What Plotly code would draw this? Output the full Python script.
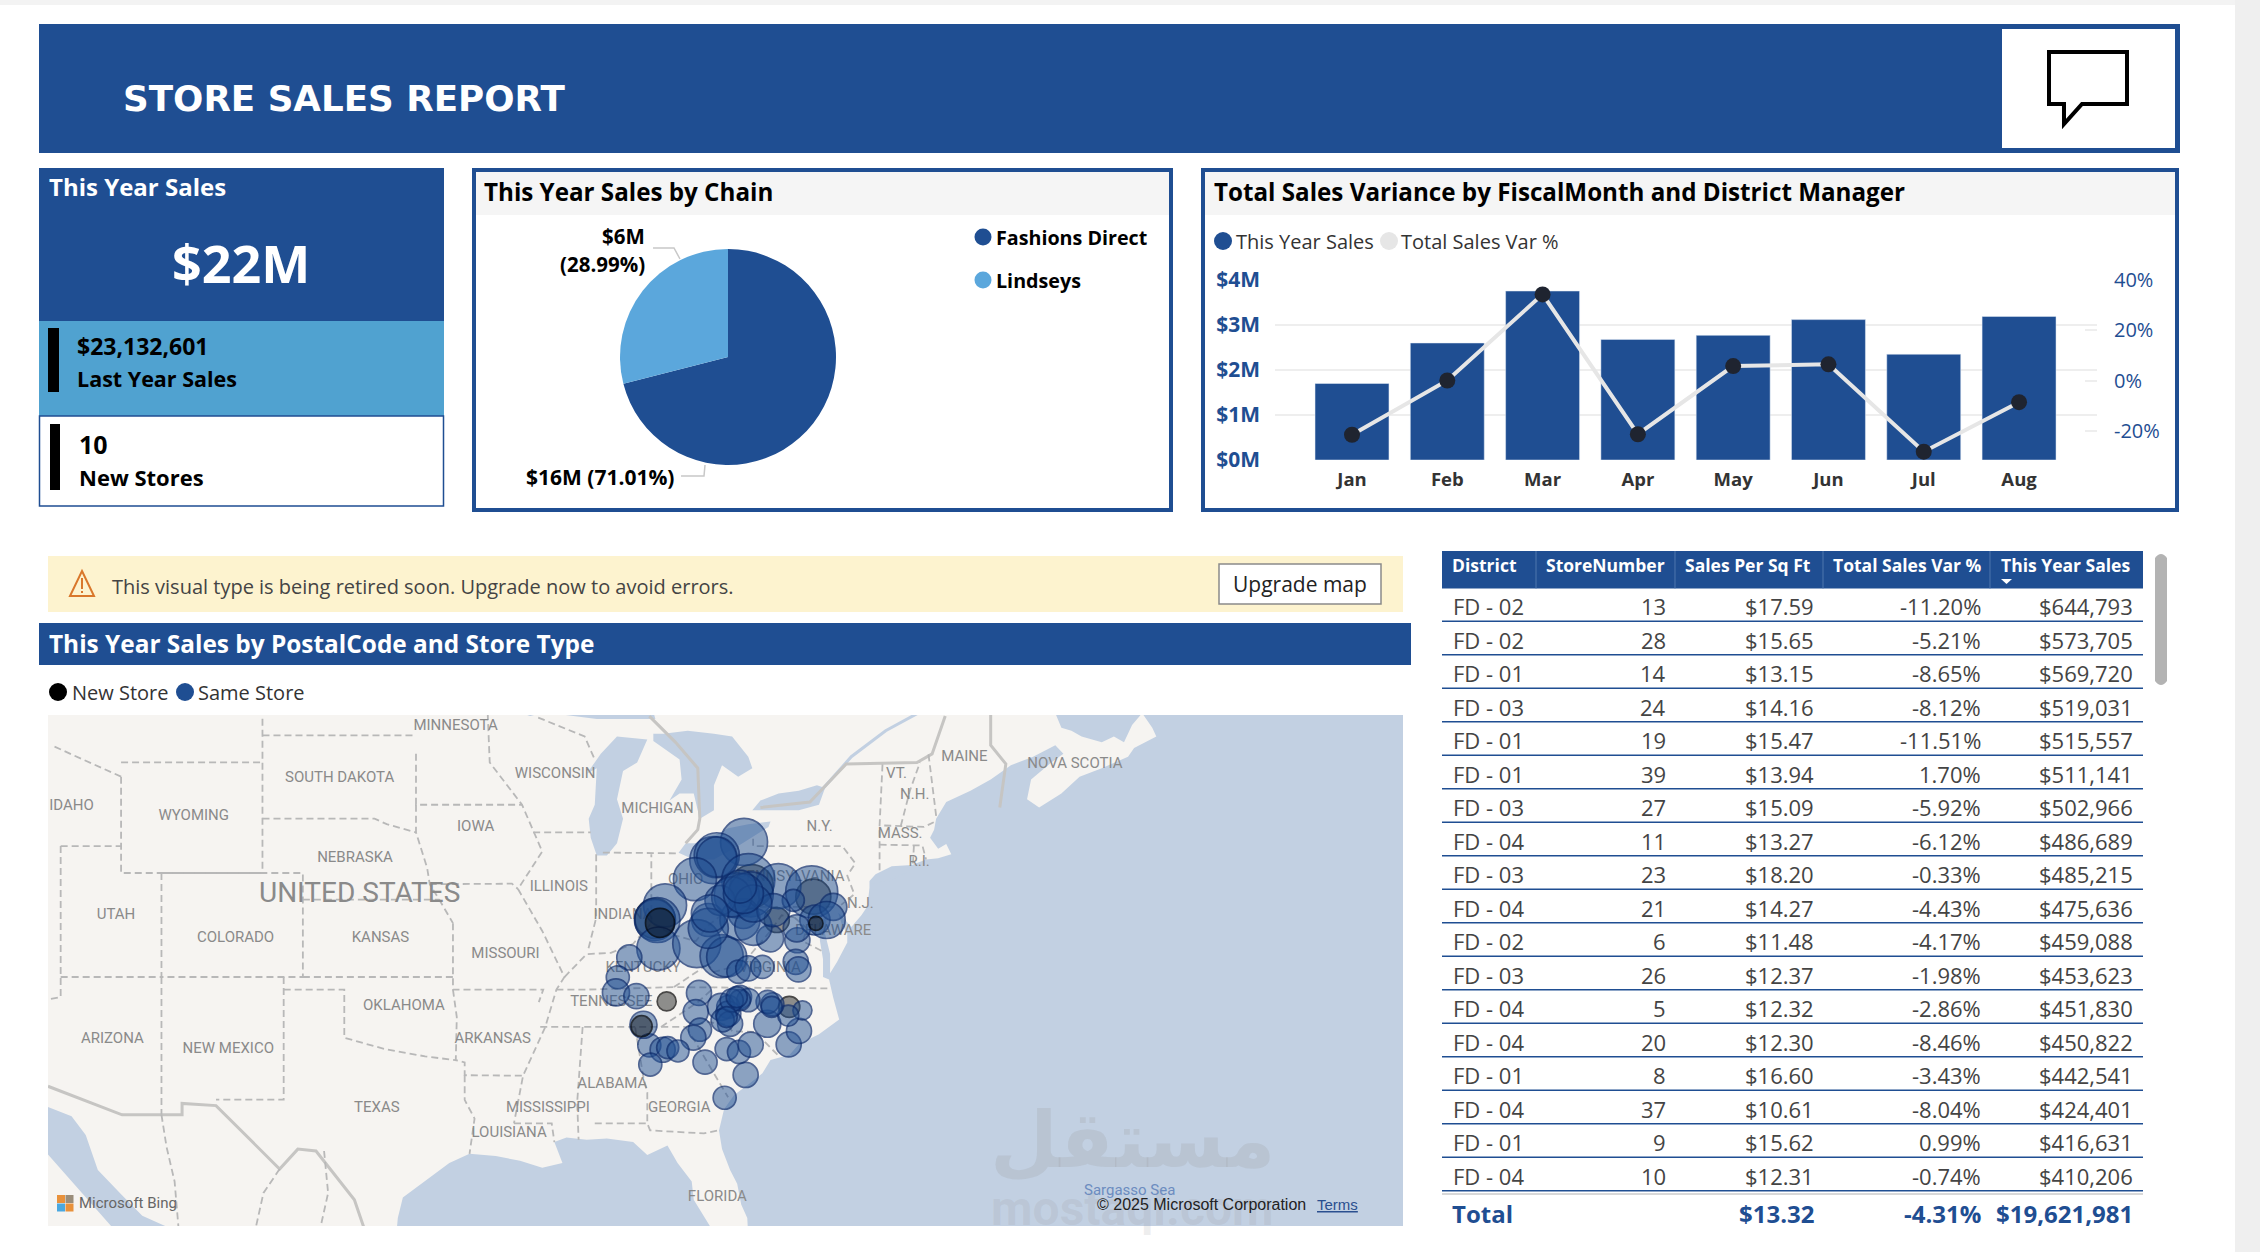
import math
import plotly.graph_objects as go

W = 2260
H = 1252
BLUE = "#1f4e92"
FONT = "Open Sans"

# kpi values
this_year_total = "$22M"
last_year_total = "$23,132,601"
new_stores = "10"

# sales by chain
chain_names = ["Fashions Direct", "Lindseys"]
chain_share = [71.01, 28.99]
chain_colors = [BLUE, "#5ba7dc"]

# sales variance by month
months = ["Jan", "Feb", "Mar", "Apr", "May", "Jun", "Jul", "Aug"]
month_sales = [1.70, 2.60, 3.755, 2.68, 2.77, 3.12, 2.35, 3.19]
month_var = [-21.3, 0.2, 34.3, -21.1, 5.9, 6.6, -28.0, -8.4]

# table
table_cols = ["District", "StoreNumber", "Sales Per Sq Ft", "Total Sales Var %", "This Year Sales"]
districts = ["FD - 02", "FD - 02", "FD - 01", "FD - 03", "FD - 01", "FD - 01", "FD - 03", "FD - 04", "FD - 03",
             "FD - 04", "FD - 02", "FD - 03", "FD - 04", "FD - 04", "FD - 01", "FD - 04", "FD - 01", "FD - 04"]
store_numbers = ["13", "28", "14", "24", "19", "39", "27", "11", "23", "21", "6", "26", "5", "20", "8", "37", "9", "10"]
sales_sqft = ["$17.59", "$15.65", "$13.15", "$14.16", "$15.47", "$13.94", "$15.09", "$13.27", "$18.20",
              "$14.27", "$11.48", "$12.37", "$12.32", "$12.30", "$16.60", "$10.61", "$15.62", "$12.31"]
sales_var = ["-11.20%", "-5.21%", "-8.65%", "-8.12%", "-11.51%", "1.70%", "-5.92%", "-6.12%", "-0.33%",
             "-4.43%", "-4.17%", "-1.98%", "-2.86%", "-8.46%", "-3.43%", "-8.04%", "0.99%", "-0.74%"]
year_sales = ["$644,793", "$573,705", "$569,720", "$519,031", "$515,557", "$511,141", "$502,966", "$486,689",
              "$485,215", "$475,636", "$459,088", "$453,623", "$451,830", "$450,822", "$442,541", "$424,401",
              "$416,631", "$410,206"]
totals = ["Total", "", "$13.32", "-4.31%", "$19,621,981"]

# bubbles on the map
same_lon = [-80.21, -81.73, -81.56, -81.56, -82.64, -80.0, -78.51, -76.86, -84.12, -84.62, -84.5, -84.45, -81.98,
            -82.55, -81.32, -81.07, -80.57, -79.88, -80.24, -80.41, -81.4, -77.77, -78.92, -77.57, -76.7, -77.6,
            -75.79, -76.12, -77.65, -77.52, -80.49, -80.0, -79.3, -85.89, -86.46, -86.55, -85.54, -82.44, -82.6,
            -82.39, -82.72, -84.9, -84.24, -83.99, -83.48, -84.85, -82.14, -81.07, -80.46, -79.88, -80.13, -81.17,
            -78.0, -77.49, -79.06, -77.32, -78.02, -78.81, -79.04, -80.41, -80.0, -80.99, -81.35, -80.99, -80.9,
            -81.27, -85.19, -80.41, -79.75, -78.76, -80.82, -81.98, -81.9, -79.75, -80.24, -80.41, -80.82, -80.57,
            -81.07, -78.84]
same_lat = [42.15, 41.48, 41.66, 41.6, 40.77, 40.73, 40.51, 40.29, 39.78, 39.22, 39.22, 38.12, 39.22, 38.31, 37.82,
            37.79, 40.16, 40.2, 39.47, 39.22, 39.97, 39.97, 38.51, 38.44, 39.22, 38.9, 39.72, 39.22, 37.6, 37.3,
            37.21, 37.34, 37.4, 37.77, 36.99, 36.39, 36.24, 36.37, 35.6, 34.89, 34.57, 34.25, 34.07, 34.16, 34.02,
            33.46, 33.56, 34.1, 33.98, 34.28, 33.03, 32.08, 34.29, 34.84, 35.13, 35.67, 35.46, 35.91, 36.01, 36.21,
            36.08, 35.81, 35.81, 35.54, 35.13, 35.27, 35.09, 36.08, 38.96, 39.6, 40.1, 38.9, 39.47, 39.85, 40.23,
            40.49, 36.07, 36.2, 35.4, 35.81]
same_size = [47, 47, 45, 40, 43, 53, 45, 52, 43, 41, 45, 43, 33, 48, 43, 40, 45, 45, 30, 40, 30, 22, 27, 25, 30, 27,
             27, 37, 25, 25, 23, 25, 23, 25, 23, 27, 25, 25, 25, 23, 25, 23, 25, 22, 22, 23, 24, 23, 23, 25, 25, 23,
             25, 25, 27, 19, 21, 23, 23, 23, 23, 23, 27, 25, 25, 23, 27, 21, 37, 33, 40, 40, 37, 37, 40, 33, 23, 21,
             21, 21]
new_lon = [-79.83, -76.78, -84.62, -77.97, -78.59]
new_lat = [40.51, 40.11, 39.28, 35.81, 39.22]
new_size = [43, 35, 40, 21, 25]
new_top_lon = [-84.37, -84.04, -85.28, -76.65]
new_top_lat = [39.11, 36.03, 35.03, 39.09]
new_top_size = [29, 19, 21, 14]

# base map outlines, lon / lat
land_lon = [-114.67, -64.8, -64.5, -64.0, -63.5, -62.5, -61.9, -61.4, -61.0, -60.5, -60.0, -59.8, -60.9, -61.2, -62.5,
            -63.6, -64.5, -65.6, -66.2, -66.0, -65.0, -64.4, -64.8, -65.9, -67.0, -68.0, -69.0, -70.2, -70.7, -70.8,
            -71.0, -70.6, -70.2, -69.95, -70.6, -71.2, -71.9, -72.9, -73.7, -74.0, -74.0, -74.1, -74.4, -74.9, -75.4,
            -75.55, -75.35, -75.1, -75.1, -75.6, -75.95, -75.95, -76.2, -76.1, -76.5, -76.45, -76.3, -76.3, -76.0,
            -75.8, -75.5, -76.5, -77.5, -77.95, -78.9, -79.3, -79.9, -80.7, -81.2, -81.45, -81.3, -80.9, -80.55,
            -80.35, -80.05, -80.02, -81.8, -82.7, -82.8, -83.5, -84.0, -85.0, -85.7, -87.0, -88.0, -89.0, -89.6,
            -89.2, -90.2, -91.3, -92.5, -93.8, -94.8, -95.9, -97.1, -97.35, -97.4, -114.67, -114.67]
land_lat = [46.7, 46.7, 46.2, 46.1, 45.9, 45.7, 45.9, 45.7, 46.3, 46.7, 46.2, 45.9, 45.5, 45.2, 44.8, 44.5, 43.9, 43.4,
            43.7, 44.4, 45.0, 45.3, 45.6, 45.2, 44.9, 44.4, 44.0, 43.6, 43.0, 42.6, 42.3, 41.9, 42.07, 41.7, 41.55,
            41.5, 41.3, 41.25, 40.95, 40.7, 40.45, 39.75, 39.4, 38.95, 39.4, 39.5, 39.0, 38.7, 38.35, 37.6, 37.15,
            37.9, 38.7, 39.4, 39.1, 38.4, 37.7, 37.0, 36.9, 36.2, 35.3, 34.7, 34.3, 33.87, 33.65, 33.1, 32.7, 32.2,
            31.6, 30.7, 29.9, 29.0, 28.4, 27.5, 26.9, 26.4, 26.4, 27.7, 28.5, 29.3, 30.05, 29.65, 30.2, 30.35, 30.3,
            30.4, 30.2, 29.3, 29.1, 29.4, 29.6, 29.7, 29.3, 28.6, 27.8, 26.9, 26.4, 26.4, 46.7]
water_lon = [-87.5, -87.0, -86.5, -86.2, -86.5, -86.2, -85.5, -85.0, -86.5, -87.3, -88.0, -87.5, -87.6, -87.9, -87.8,
             -87.5, None,
             -84.7, -84.2, -83.0, -81.7, -80.8, -80.0, -79.8, -80.5, -81.3, -81.7, -81.7, -82.4, -82.7, -83.4, -83.9,
             -83.3, -83.4, -84.7, -84.7, None,
             -83.45, -82.7, -81.7, -80.5, -79.0, -78.9, -80.0, -81.0, -82.4, -83.1, -83.45, None,
             -79.8, -78.9, -77.5, -76.5, -76.2, -76.6, -77.5, -78.5, -79.4, -79.8, None,
             -92.0, -90.8, -89.5, -88.2, -85.0, -84.6, -87.5, -92.0, None,
             -114.7, -113.5, -112.8, -112.2, -111.0, -110.0, -108.5, -111.4, -114.7, -114.7, None,
             -72.0, -73.7, -74.0, -73.0, -72.0]
water_lat = [41.65, 41.65, 42.1, 43.0, 43.7, 44.7, 45.0, 45.8, 45.9, 45.3, 44.6, 44.8, 43.5, 43.0, 42.3, 41.65, None,
             46.0, 46.0, 46.1, 46.0, 45.9, 45.2, 44.8, 44.5, 44.9, 44.2, 43.3, 43.0, 43.9, 43.9, 43.65, 44.4, 45.1,
             45.75, 46.0, None,
             41.75, 41.5, 41.5, 42.0, 42.7, 42.9, 42.8, 42.65, 42.1, 42.1, 41.75, None,
             43.3, 43.3, 43.3, 43.5, 44.1, 44.2, 44.0, 43.9, 43.65, 43.3, None,
             46.9, 46.6, 46.85, 47.5, 47.5, 46.5, 46.5, 46.9, None,
             31.7, 31.3, 30.5, 29.0, 27.9, 27.0, 26.4, 26.4, 29.7, 31.7, None,
             41.05, 40.6, 40.58, 40.7, 41.05]
border_lon = [-111.05, -104.05, None, -111.05, -111.05, -109.05, -104.05, -104.05, None, -104.05, -96.56, None,
              -104.05, -98.5, -97.9, -96.45, None, -96.45, -96.45, -91.2, None, -95.77, -91.7, -91.4, None,
              -102.05, -95.3, None, -109.05, -109.05, -102.05, -102.05, -109.05, None,
              -109.05, -109.05, None, -103.0, -103.0, -106.35, None,
              -103.0, -100.0, -100.0, -98.0, -96.0, -94.48, None, -102.05, -94.62, None, -94.62, -94.62, -90.15,
              -90.37, None, -94.62, -94.43, -94.48, -94.04, -94.04, -91.15, None, -94.04, -94.04, -93.55, -93.8, None,
              -91.6, -89.73, -89.6, None, -90.3, -84.32, -83.1, None, -89.5, -88.05, -83.68, -81.68, -75.9, None,
              -88.2, -88.47, -88.4, None, -85.6, -85.18, -85.0, -85.0, -84.86, -82.2, -81.5, None, -87.6, -85.0, None,
              -83.1, -82.7, -81.0, None, -83.1, -82.0, -81.0, -80.8, -79.67, -78.55, None, -84.32, -82.5, -81.68, None,
              -89.1, -88.0, -86.8, -85.7, -84.8, -83.7, -82.6, -82.0, -80.85, -80.52, -80.52, None,
              -87.53, -87.53, -87.95, None, -84.8, -84.8, None, -87.2, -83.45, None, -80.52, -75.79, None,
              -79.76, -79.76, -75.35, -74.7, -75.1, -74.75, -75.4, None, -73.5, -73.5, -73.35, None,
              -73.5, -71.8, -71.38, -71.2, None, -73.27, -71.3, -70.82, None, -71.8, -71.85, None,
              -72.45, -72.0, -71.5, None, -70.7, -71.08, None, -77.72, -77.1, -77.3, -76.3, None,
              -77.72, -78.35, -78.9, -80.3, -81.7, -82.0, None, -83.68, -82.0, None,
              -92.9, -92.8, -91.2, -90.2, -91.4, -90.2, -89.1, -89.5, -90.05, -91.15, -91.6, None,
              -90.65, -87.8, None, -90.4, -88.1, -87.6, None, -96.45, -96.45, -95.9, -95.77, -95.3, -94.62, None,
              -114.04, -111.05, None, -114.04, -109.05, None, -114.04, -114.04, -114.7, None, -111.05, -114.5, None,
              -109.05, -108.8, -108.4, -108.2, None, -103.2, -104.0, -104.4, None, -101.0, -100.8, -101.2]
border_lat = [45.0, 45.0, None, 44.5, 41.0, 41.0, 41.0, 46.7, None, 45.94, 45.94, None,
              43.0, 43.0, 42.8, 42.5, None, 45.3, 43.5, 43.5, None, 40.58, 40.6, 40.4, None,
              40.0, 40.0, None, 41.0, 37.0, 37.0, 41.0, 41.0, None,
              37.0, 31.36, None, 37.0, 32.0, 32.0, None,
              36.5, 36.5, 34.56, 34.1, 33.8, 33.64, None, 37.0, 37.0, None, 39.1, 36.5, 36.5, 36.0, None,
              36.5, 35.4, 33.64, 33.55, 33.02, 33.0, None, 33.02, 31.99, 31.2, 29.7, None,
              31.0, 31.0, 30.2, None, 35.0, 34.99, 35.0, None, 36.5, 36.5, 36.6, 36.59, 36.55, None,
              35.0, 31.9, 30.3, None, 34.98, 32.87, 32.3, 31.0, 30.7, 30.57, 30.7, None, 31.0, 31.0, None,
              35.0, 34.5, 32.1, None, 35.0, 35.2, 35.1, 34.82, 34.8, 33.86, None, 35.0, 36.0, 36.59, None,
              37.0, 37.9, 37.95, 38.3, 39.1, 38.65, 38.4, 39.0, 39.7, 40.64, 42.0, None,
              41.7, 39.3, 38.0, None, 39.1, 41.7, None, 41.76, 41.73, None, 39.72, 39.72, None,
              42.27, 42.0, 42.0, 41.36, 40.9, 40.2, 39.8, None, 41.1, 42.75, 45.0, None,
              42.05, 42.02, 42.02, 41.5, None, 42.75, 42.7, 42.87, None, 42.02, 41.32, None,
              42.73, 44.0, 45.0, None, 43.1, 45.3, None, 39.32, 38.9, 38.4, 38.0, None,
              39.32, 39.4, 38.8, 37.5, 37.2, 37.5, None, 36.6, 37.5, None,
              46.7, 45.0, 43.5, 41.8, 40.4, 38.8, 37.0, 36.5, 35.0, 33.0, 31.0, None,
              42.5, 42.5, None, 46.55, 45.9, 45.1, None, 43.5, 42.5, 41.2, 40.58, 40.0, 39.1, None,
              42.0, 42.0, None, 37.0, 37.0, None, 42.0, 36.2, 36.1, None, 44.5, 45.6, None,
              31.36, 30.0, 28.5, 26.4, None, 29.04, 28.0, 26.4, None, 29.82, 28.0, 26.4]
country_lon = [-114.67, -111.0, -108.03, -108.03, -106.35, -104.7, -103.2, -102.3, -101.4, -99.5, -99.0, None,
               -84.9, -83.6, -82.5, -82.4, -82.5, -83.1, None,
               -79.4, -76.95, -75.15, -71.65, -70.9, -70.25, None,
               -68.0, -68.0, -67.25, -67.4, -67.55]
country_lat = [32.56, 31.36, 31.36, 31.84, 31.75, 30.33, 29.04, 29.9, 29.82, 27.7, 26.4, None,
               46.6, 45.7, 44.8, 43.0, 42.6, 42.1, None,
               43.4, 43.6, 44.95, 45.0, 45.3, 46.6, None,
               46.7, 45.6, 44.95, 44.2, 43.4]
river_lon = [-76.4, -74.9, -73.2, -71.6]
river_lat = [44.0, 45.2, 46.1, 46.7]

state_names = ["MINNESOTA", "SOUTH DAKOTA", "WISCONSIN", "MAINE", "NOVA SCOTIA", "VT.", "N.H.", "IDAHO", "WYOMING",
               "MICHIGAN", "IOWA", "N.Y.", "MASS.", "NEBRASKA", "R.I.", "UNITED STATES", "ILLINOIS", "N.J.", "UTAH",
               "INDIANA", "COLORADO", "KANSAS", "DELAWARE", "MISSOURI", "KENTUCKY", "VIRGINIA", "OHIO", "PENNSYLVANIA",
               "TENNESSEE", "OKLAHOMA", "ARIZONA", "ARKANSAS", "NEW MEXICO", "ALABAMA", "TEXAS", "MISSISSIPPI",
               "GEORGIA", "LOUISIANA", "FLORIDA"]
state_lon = [-94.49, -100.23, -89.56, -69.3, -63.83, -72.66, -71.76, -113.5, -107.45, -84.49, -93.5, -76.47, -72.48,
             -99.47, -71.54, -99.24, -89.38, -74.45, -111.3, -86.2, -105.38, -98.21, -75.8, -92.02, -85.21, -78.93,
             -83.1, -77.9, -86.78, -97.05, -111.48, -92.65, -105.74, -86.73, -98.39, -89.92, -83.42, -91.84, -81.53]
state_lat = [46.27, 44.46, 44.58, 45.18, 44.95, 44.58, 43.83, 43.46, 43.08, 43.33, 42.69, 42.67, 42.43, 41.54, 41.41,
             40.18, 40.48, 39.81, 39.4, 39.4, 38.52, 38.52, 38.78, 37.89, 37.36, 37.36, 40.74, 40.85, 36.01, 35.84,
             34.5, 34.5, 34.1, 32.66, 31.65, 31.65, 31.65, 30.6, 27.8]
state_font = [15] * len(state_names)
state_font[15] = 28


def fx(x):
    return x / W


def fy(y):
    return 1 - y / H


def merc(lat):
    if lat is None:
        return None
    return math.asinh(math.tan(math.radians(lat)))


def mercs(lats):
    return [merc(v) for v in lats]


def rect(x0, y0, x1, y1, fill=None, line=None, width=0, layer="below"):
    shapes.append(dict(type="rect", xref="paper", yref="paper", x0=fx(x0), x1=fx(x1), y0=fy(y1), y1=fy(y0),
                       fillcolor=fill or "rgba(0,0,0,0)", line=dict(color=line or "rgba(0,0,0,0)", width=width),
                       layer=layer))


def hline(x0, x1, y, color, width=1):
    shapes.append(dict(type="line", xref="paper", yref="paper", x0=fx(x0), x1=fx(x1), y0=fy(y), y1=fy(y),
                       line=dict(color=color, width=width), layer="below"))


def circle(cx, cy, r, fill):
    shapes.append(dict(type="circle", xref="paper", yref="paper", x0=fx(cx - r), x1=fx(cx + r), y0=fy(cy + r),
                       y1=fy(cy - r), fillcolor=fill, line=dict(width=0), layer="below"))


def poly(points, fill="rgba(0,0,0,0)", line="rgba(0,0,0,0)", width=0, closed=True):
    path = "M " + " L ".join(f"{fx(p[0]):.5f} {fy(p[1]):.5f}" for p in points)
    if closed:
        path += " Z"
    shapes.append(dict(type="path", xref="paper", yref="paper", path=path, fillcolor=fill,
                       line=dict(color=line, width=width), layer="below"))


def label(x, y, text, size=20, color="#000000", bold=False, anchor="left", family=FONT, weight=None):
    notes.append(dict(xref="paper", yref="paper", x=fx(x), y=fy(y), text=text, showarrow=False, xanchor=anchor,
                      yanchor="middle", borderpad=0,
                      font=dict(family=family, size=size, color=color, weight=weight or (700 if bold else 400))))


shapes = []
notes = []

# page chrome
rect(0, 0, W, 5, fill="#f3f3f3")
rect(2235, 0, W, H, fill="#efefef")

# header
rect(39, 24, 2180, 153, fill=BLUE)
rect(2002, 29, 2175, 148, fill="#ffffff")
label(122, 99, "STORE SALES REPORT", size=35.7, color="#ffffff", bold=True, family="DejaVu Sans")
poly([(2049, 52), (2127, 52), (2127, 104), (2082, 104), (2064, 124), (2064, 104), (2049, 104)],
     fill="#ffffff", line="#000000", width=4)

# kpi cards
rect(39, 168, 444, 321, fill=BLUE)
rect(39, 321, 444, 416, fill="#50a2d0")
rect(39.5, 416, 443.5, 506, fill="#ffffff", line=BLUE, width=1.5)
rect(48, 328, 59, 392, fill="#000000")
rect(50, 424, 60, 490, fill="#000000")
label(48, 187, "This Year Sales", size=24, color="#ffffff", bold=True)
label(241, 262, this_year_total, size=52, color="#ffffff", bold=True, anchor="center")
label(76, 346, last_year_total, size=23, bold=True)
label(76, 378, "Last Year Sales", size=21.5, bold=True)
label(78, 444, new_stores, size=25, bold=True)
label(78, 477, "New Stores", size=22, bold=True)

# chain panel
rect(474, 170, 1171, 510, fill="#ffffff", line=BLUE, width=4)
rect(476, 172, 1169, 215, fill="#f5f5f5")
label(483, 191, "This Year Sales by Chain", size=24.2, bold=True)
for i, name in enumerate(chain_names):
    circle(983, 237 + i * 43, 8.5, chain_colors[i])
    label(995, 237 + i * 43, name, size=19.7, bold=True)
label(646, 236, "$6M", size=20.5, bold=True, anchor="right")
label(646, 264, "(28.99%)", size=20.5, bold=True, anchor="right")
label(675, 477, "$16M (71.01%)", size=21, bold=True, anchor="right")
poly([(653, 248), (674, 248), (680, 259)], line="#c8c8c8", width=1.5, closed=False)
poly([(681, 476), (704, 476), (705, 465)], line="#c8c8c8", width=1.5, closed=False)

# variance panel
rect(1203, 170, 2177, 510, fill="#ffffff", line=BLUE, width=4)
rect(1205, 172, 2175, 215, fill="#f5f5f5")
label(1213, 191, "Total Sales Variance by FiscalMonth and District Manager", size=24.2, bold=True)
circle(1223, 241, 9, BLUE)
label(1235, 241, "This Year Sales", size=20, color="#333333")
circle(1389, 241, 9, "#e6e6e6")
label(1400, 241, "Total Sales Var %", size=20, color="#333333")

# retired map banner
rect(48, 556, 1403, 612, fill="#fdf3cf")
poly([(82, 571), (94, 596), (70, 596)], line="#d9772b", width=2)
poly([(82, 578), (82, 589)], line="#d9772b", width=2, closed=False)
poly([(82, 591), (82, 593)], line="#d9772b", width=2, closed=False)
label(111, 586, "This visual type is being retired soon. Upgrade now to avoid errors.", size=20, color="#444444")
rect(1219, 564, 1381, 604, fill="#ffffff", line="#8a8a8a", width=1.5)
label(1300, 584, "Upgrade map", size=21, color="#222222", anchor="center")

# map title and legend
rect(39, 623, 1411, 665, fill=BLUE)
label(48, 643, "This Year Sales by PostalCode and Store Type", size=24.4, color="#ffffff", bold=True)
circle(58, 692, 9, "#000000")
label(71, 692, "New Store", size=20, color="#333333")
circle(185, 692, 9, BLUE)
label(197, 692, "Same Store", size=20, color="#333333")

# ocean under the land trace
rect(48, 715, 1403, 1226, fill="#c2d0e2")

# table
col_left = [1451, 1545.5, 1684, 1832, 2000]
col_right = [None, 1667, 1815, 1982, 2134]
rect(1442, 551, 2143, 588.5, fill=BLUE)
for x in [1536, 1675, 1823, 1990]:
    poly([(x, 551), (x, 588.5)], line="#4f76ad", width=1, closed=False)
for i, name in enumerate(table_cols):
    label(col_left[i], 564.5, name, size=17.5, color="#ffffff", bold=True)
poly([(2001, 579), (2012, 579), (2006.5, 584)], fill="#ffffff")
rows = list(zip(districts, store_numbers, sales_sqft, sales_var, year_sales))
for r, row in enumerate(rows):
    y = 606 + r * 33.5
    label(1452, y, row[0], size=22, color="#444444")
    for c in range(1, 5):
        label(col_right[c], y, row[c], size=22, color="#444444", anchor="right")
    hline(1442, 2143, y + 15.2, BLUE, 1.5)
hline(1442, 2143, 1194, "#d8d8d8", 2)
label(1451, 1213, totals[0], size=24, color=BLUE, bold=True)
for c in range(2, 5):
    label(col_right[c], 1213, totals[c], size=24, color=BLUE, bold=True, anchor="right")
shapes.append(dict(type="path", xref="paper", yref="paper", layer="below", fillcolor="#b3b3b3", line=dict(width=0),
                   path=f"M {fx(2155)} {fy(558)} Q {fx(2161)} {fy(550)} {fx(2167)} {fy(558)} "
                        f"L {fx(2167)} {fy(681)} Q {fx(2161)} {fy(689)} {fx(2155)} {fy(681)} Z"))

# map credits
for sq, col in zip([(57, 1195), (65.5, 1195), (57, 1203.5), (65.5, 1203.5)],
                   ["#e8913b", "#9a8d7a", "#4aa8e0", "#e8913b"]):
    rect(sq[0], sq[1], sq[0] + 8, sq[1] + 8, fill=col, layer="above")
label(78, 1203, "Microsoft Bing", size=15, color="#666666", family="Roboto")
label(1132, 1140, "مستقل", size=78, color="rgba(150,150,150,0.2)", anchor="center", family="DejaVu Sans", bold=True)
label(1132, 1208, "mostaql.com", size=48, color="rgba(150,150,150,0.16)", anchor="center", family="Roboto", bold=True)
label(1083, 1190, "Sargasso Sea", size=15, color="#6c8cc0", family="Roboto")
label(1096, 1204, "© 2025 Microsoft Corporation", size=16, color="#222222", family="Liberation Sans")
label(1316, 1204, "<u>Terms</u>", size=15, color="#2a4f8f", family="Liberation Sans")

fig = go.Figure()

# sales by chain
fig.add_trace(go.Pie(labels=chain_names, values=chain_share, sort=False, direction="clockwise", rotation=0,
                     marker=dict(colors=chain_colors), textinfo="none", showlegend=False,
                     domain=dict(x=[fx(620), fx(836)], y=[fy(465), fy(249)])))

# bars + line
fig.add_trace(go.Bar(x=months, y=month_sales, marker_color=BLUE, xaxis="x", yaxis="y", showlegend=False))
fig.add_trace(go.Scatter(x=months, y=month_var, mode="lines+markers", xaxis="x", yaxis="y2", showlegend=False,
                         line=dict(color="#e6e6e6", width=4),
                         marker=dict(color="#1f2430", size=16)))

# map
map_kw = dict(xaxis="x2", yaxis="y3", showlegend=False, hoverinfo="skip")
fig.add_trace(go.Scatter(x=land_lon, y=mercs(land_lat), mode="lines", fill="toself", fillcolor="#f6f4f1",
                         line=dict(width=0), **map_kw))
fig.add_trace(go.Scatter(x=water_lon, y=mercs(water_lat), mode="lines", fill="toself", fillcolor="#c2d0e2",
                         line=dict(width=0), **map_kw))
fig.add_trace(go.Scatter(x=river_lon, y=mercs(river_lat), mode="lines", line=dict(color="#c2d0e2", width=3), **map_kw))
fig.add_trace(go.Scatter(x=country_lon, y=mercs(country_lat), mode="lines", line=dict(color="#c6c5c3", width=3), **map_kw))
fig.add_trace(go.Scatter(x=border_lon, y=mercs(border_lat), mode="lines",
                         line=dict(color="#b8b8b8", width=1.8, dash="7px,4px"), **map_kw))
fig.add_trace(go.Scatter(x=state_lon, y=mercs(state_lat), mode="text", text=state_names,
                         textfont=dict(family="Roboto", color="#8a8a8a", size=state_font), **map_kw))
fig.add_trace(go.Scatter(x=new_lon, y=mercs(new_lat), mode="markers",
                         marker=dict(size=new_size, color="rgba(0,0,0,0.6)", line=dict(color="#000000", width=1.7)),
                         **map_kw))
fig.add_trace(go.Scatter(x=same_lon, y=mercs(same_lat), mode="markers",
                         marker=dict(size=same_size, color="rgba(31,78,146,0.7)", line=dict(color="#0b2a6b", width=1.7)),
                         **map_kw))
fig.add_trace(go.Scatter(x=new_top_lon, y=mercs(new_top_lat), mode="markers",
                         marker=dict(size=new_top_size, color="rgba(0,0,0,0.6)", line=dict(color="#000000", width=1.7)),
                         **map_kw))

PX_DEG = 20.2
PX_RAD = PX_DEG * 180 / math.pi
ref_merc = merc(41)

fig.update_layout(
    width=W,
    height=H,
    margin=dict(l=0, r=0, t=0, b=0),
    paper_bgcolor="#ffffff",
    plot_bgcolor="rgba(0,0,0,0)",
    shapes=shapes,
    annotations=notes,
    bargap=0.224,
    font=dict(family=FONT),
    xaxis=dict(domain=[fx(1275), fx(2097)], type="category", range=[-0.808, 7.818], showgrid=False, zeroline=False,
               showline=False, ticks="", ticklabelstandoff=6, automargin=False,
               tickfont=dict(size=18.5, color="#333333", weight=700)),
    yaxis=dict(domain=[fy(460), fy(280)], range=[0, 4], tickvals=[0, 1, 2, 3, 4], automargin=False,
               ticktext=["$0M", "$1M", "$2M", "$3M", "$4M"], gridcolor="#eeeeee", gridwidth=2, zeroline=False,
               ticklabelstandoff=14, tickfont=dict(size=21, color=BLUE, weight=700)),
    yaxis2=dict(overlaying="y", side="right", range=[-31.3, 40], tickvals=[-20, 0, 20, 40], automargin=False,
                ticktext=["-20%", "0%", "20%", "40%"], showgrid=False, zeroline=False, ticks="inside", ticklen=12,
                tickwidth=2, tickcolor="#eeeeee", ticklabelstandoff=16, tickfont=dict(size=20, color=BLUE)),
    xaxis2=dict(domain=[fx(48), fx(1403)], anchor="y3", visible=False, automargin=False,
                range=[-81.4 + (48 - 720) / PX_DEG, -81.4 + (1403 - 720) / PX_DEG]),
    yaxis3=dict(domain=[fy(1226), fy(715)], anchor="x2", visible=False, automargin=False,
                range=[ref_merc - (1226 - 873) / PX_RAD, ref_merc + (873 - 715) / PX_RAD]),
)

fig.write_html("out.html", config={"displayModeBar": False},
               post_script="document.body.style.margin='0';document.documentElement.style.overflow='hidden';")
